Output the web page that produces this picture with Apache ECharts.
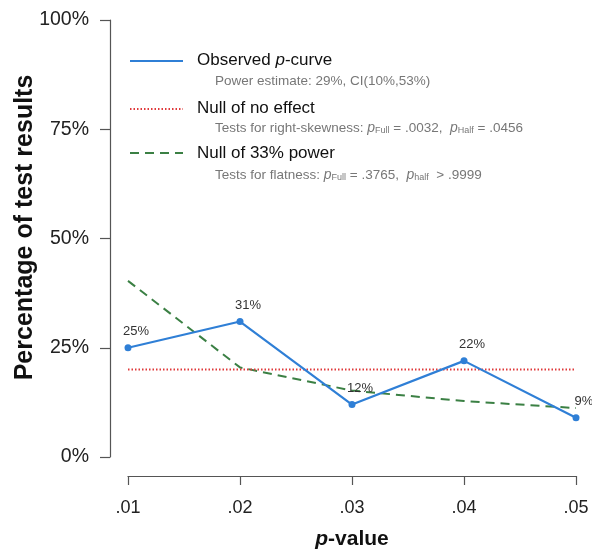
<!DOCTYPE html>
<html>
<head>
<meta charset="utf-8">
<script src="https://cdn.jsdelivr.net/npm/echarts@6/dist/echarts.min.js"></script>
<style>
  html, body { margin: 0; padding: 0; background: #fff; }
  #chart { width: 592px; height: 556px; }
</style>
</head>
<body>
<div id="chart"></div>
<script>
// p-value bins on the x axis
const pBins = ['.01', '.02', '.03', '.04', '.05'];
// share of significant results falling in each bin (%)
const observed = [25, 31, 12, 22, 9];
// expected shares under the null of no effect (uniform)
const nullNoEffect = [20, 20, 20, 20, 20];
// expected shares under the null of 33% power
const null33 = [40.3, 20.5, 15.2, 12.8, 11.2];
// y-axis range and step (%)
const yMin = 0, yMax = 100, yStep = 25;

const FONT = '"Liberation Sans", Arial, Helvetica, sans-serif';
const BLUE = '#2f7fd6';
const RED = '#e0383a';
const GREEN = '#3b8044';
const SUB_GRAY = '#777';

const chart = echarts.init(document.getElementById('chart'), null, { renderer: 'canvas' });

const subRich = {
  i: { fontStyle: 'italic', fontSize: 14, fill: SUB_GRAY, color: SUB_GRAY, fontFamily: FONT },
  s: { fontSize: 9, fill: SUB_GRAY, color: SUB_GRAY, fontFamily: FONT, verticalAlign: 'bottom', padding: [6, 0, 0, 0] }
};

function legendLine(y, color, dash) {
  return {
    type: 'line',
    shape: { x1: 130, y1: y, x2: 183, y2: y },
    style: { stroke: color, lineWidth: 2, lineDash: dash }
  };
}
function legendText(x, y, text, size, color, rich) {
  return {
    type: 'text',
    style: {
      x: x, y: y, text: text, fill: color, fontSize: size, fontFamily: FONT,
      verticalAlign: 'middle', align: 'left', rich: rich || {}
    }
  };
}

const option = {
  backgroundColor: '#fff',
  animation: false,
  grid: { left: 128, right: 16, top: 20, bottom: 99, containLabel: false, outerBoundsMode: 'none' },
  xAxis: {
    type: 'category',
    data: pBins,
    boundaryGap: false,
    offset: 19,
    axisLine: { show: true, onZero: false, lineStyle: { color: '#555', width: 1.2 } },
    axisTick: { show: true, inside: false, length: 9, alignWithLabel: true, lineStyle: { color: '#555', width: 1.2 } },
    axisLabel: { fontSize: 18, color: '#222', fontFamily: FONT, margin: 23 },
    splitLine: { show: false },
    name: '{i|p}-value',
    nameLocation: 'middle',
    nameGap: 53,
    nameMoveOverlap: false,
    nameTextStyle: {
      fontSize: 21, fontWeight: 'bold', color: '#111', fontFamily: FONT,
      rich: { i: { fontSize: 21, fontWeight: 'bold', fontStyle: 'italic', color: '#111', fontFamily: FONT } }
    }
  },
  yAxis: {
    type: 'value',
    min: yMin, max: yMax, interval: yStep,
    offset: 18,
    axisLine: { show: true, onZero: false, lineStyle: { color: '#555', width: 1.2 } },
    axisTick: { show: true, inside: false, length: 10, lineStyle: { color: '#555', width: 1.2 } },
    axisLabel: { fontSize: 19.5, color: '#222', fontFamily: FONT, margin: 21, formatter: '{value}%' },
    splitLine: { show: false },
    name: 'Percentage of test results',
    nameLocation: 'middle',
    nameGap: 72,
    nameMoveOverlap: false,
    nameTextStyle: { fontSize: 25, fontWeight: 'bold', color: '#111', fontFamily: FONT, padding: [0, 0, 0, 22] }
  },
  series: [
    {
      name: 'Null of 33% power',
      type: 'line',
      data: null33,
      symbol: 'none',
      lineStyle: { color: GREEN, width: 2, type: [9, 6] },
      z: 2
    },
    {
      name: 'Null of no effect',
      type: 'line',
      data: nullNoEffect,
      symbol: 'none',
      lineStyle: { color: RED, width: 2, type: [1.5, 2] },
      z: 2
    },
    {
      name: 'Observed p-curve',
      type: 'line',
      data: observed,
      symbol: 'circle',
      symbolSize: 7,
      itemStyle: { color: BLUE },
      lineStyle: { color: BLUE, width: 2.2 },
      label: {
        show: true, position: 'top', distance: 6, offset: [8, 0],
        formatter: '{c}%', fontSize: 13, color: '#333', fontFamily: FONT
      },
      z: 3
    }
  ],
  graphic: [
    legendLine(61, BLUE, null),
    legendText(197, 60, 'Observed {i|p}-curve', 17, '#111',
      { i: { fontStyle: 'italic', fontSize: 17, fill: '#111', color: '#111', fontFamily: FONT } }),
    legendText(215, 81, 'Power estimate: 29%, CI(10%,53%)', 13.5, SUB_GRAY),
    legendLine(109, RED, [1.5, 2]),
    legendText(197, 108, 'Null of no effect', 17, '#111'),
    legendText(215, 128, 'Tests for right-skewness: {i|p}{s|Full} = .0032,  {i|p}{s|Half} = .0456', 13.5, SUB_GRAY, subRich),
    legendLine(153, GREEN, [9, 6]),
    legendText(197, 153, 'Null of 33% power', 17, '#111'),
    legendText(215, 175, 'Tests for flatness: {i|p}{s|Full} = .3765,  {i|p}{s|half}  > .9999', 13.5, SUB_GRAY, subRich)
  ]
};

chart.setOption(option);
</script>
</body>
</html>
